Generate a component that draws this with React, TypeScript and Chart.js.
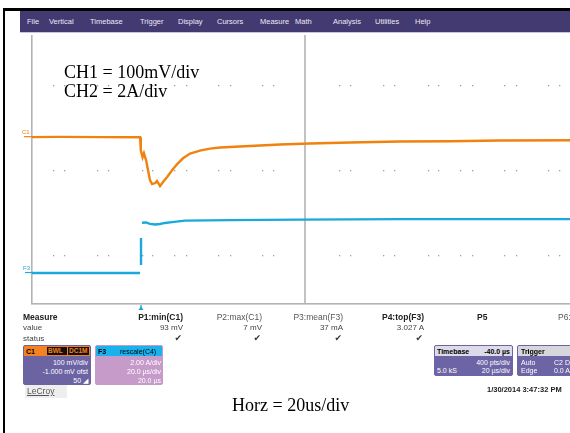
import React, { useEffect, useRef } from "react";
import { Chart, registerables } from "chart.js";

Chart.register(...registerables);

// ---- data (time in µs, CH1 in mV, CH2 in A) ----
const ch1TimeUs = [-100, -89.7, -75.1, -60.4, -60.2, -60.1, -59.5, -59.0, -58.2, -57.5, -56.8, -56.0, -54.9, -54.2, -53.1, -52.0, -50.5, -48.7, -46.9, -44.7, -42.1, -38.5, -34.8, -31.1, -23.8, -16.5, -9.2, 1.8, 16.5, 34.8, 53.1, 71.4, 100];
const ch1MilliVolts = [0, 1, 0, 0, -24, -39, -60, -48, -69, -99, -128, -140, -137, -131, -146, -134, -119, -99, -81, -63, -49, -40, -34, -31, -28, -25, -22, -19, -16, -13, -12, -10, -9];

const ch2TimeUs = [-100, -80, -60.4, -60.25, -60.07, -60.07, -59.9, -59.7, -58.2, -56.8, -54.9, -53.1, -51.3, -48.7, -44.0, -27.5, -1.8, 34.8, 100];
const ch2Amps: (number | null)[] = [0, 0, 0, null, 0.48, 2.09, null, 3.0, 3.02, 2.93, 2.9, 2.93, 2.99, 3.04, 3.13, 3.16, 3.19, 3.22, 3.22];

const timeRangeUs = [-100, 100];
const ch1RangeMv = [-495, 305];
const ch2RangeA = [-1.79, 14.21];
const triggerTimeUs = -60.07;

const menuItems = ["File", "Vertical", "Timebase", "Trigger", "Display", "Cursors", "Measure", "Math", "Analysis", "Utilities", "Help"];
const menuX = [27, 49, 90, 140, 178, 217, 260, 295, 333, 375, 415];

const measureParams = ["P1:min(C1)", "P2:max(C1)", "P3:mean(F3)", "P4:top(F3)"];
const measureValues = ["93 mV", "7 mV", "37 mA", "3.027 A"];
const measureRight = [183, 262, 343, 424];

const ORANGE = "#f0820f";
const CYAN = "#1aa9dc";

const scopePlugin = {
  id: "scopeDecor",
  beforeDatasetsDraw(chart: any) {
    const { ctx, chartArea: a, scales } = chart;
    ctx.save();
    // dotted graticule
    ctx.fillStyle = "#a0a0a0";
    const cols = [21, 32, 65, 76, 110, 120, 142, 154, 186, 198, 230, 241];
    for (const base of [0, 286])
      for (const c of cols)
        for (const r of [50, 135, 220]) ctx.fillRect(a.left + base + c, a.top + r, 1.3, 1.3);
    // border + centre line
    ctx.fillStyle = "#b4b4b4";
    ctx.fillRect(a.left - 1, a.top, 1.6, a.bottom - a.top + 1);
    ctx.fillRect(a.left - 1, a.bottom, a.right - a.left + 2, 1.6);
    const cx = scales.x.getPixelForValue(0);
    ctx.fillRect(cx - 0.8, a.top, 1.6, a.bottom - a.top);
    ctx.restore();
  },
  afterDraw(chart: any) {
    const { ctx, chartArea: a, scales } = chart;
    ctx.save();
    // channel markers
    const y1 = scales.y1.getPixelForValue(0);
    ctx.strokeStyle = ORANGE;
    ctx.fillStyle = ORANGE;
    ctx.lineWidth = 1.2;
    ctx.beginPath();
    ctx.moveTo(24, y1 - 0.5);
    ctx.lineTo(a.left, y1 - 0.5);
    ctx.stroke();
    ctx.font = "6px 'Liberation Sans'";
    ctx.textBaseline = "bottom";
    ctx.fillText("C1", 22, y1 - 2);
    const y2 = scales.y2.getPixelForValue(0);
    ctx.strokeStyle = CYAN;
    ctx.fillStyle = CYAN;
    ctx.beginPath();
    ctx.moveTo(25, y2 - 0.5);
    ctx.lineTo(a.left, y2 - 0.5);
    ctx.stroke();
    ctx.fillText("F3", 23, y2 - 2);
    // trigger marker
    const tx = scales.x.getPixelForValue(triggerTimeUs);
    ctx.fillStyle = CYAN;
    ctx.fillRect(tx - 0.6, a.bottom + 2, 1.2, 4);
    ctx.beginPath();
    ctx.moveTo(tx - 2.5, a.bottom + 7);
    ctx.lineTo(tx + 2.5, a.bottom + 7);
    ctx.lineTo(tx, a.bottom + 3);
    ctx.closePath();
    ctx.fill();
    ctx.restore();
  },
};

type TP = { x?: number; r?: number; ri?: number; y: number; s?: number; c?: string; b?: boolean; children: React.ReactNode; f?: string; u?: boolean };
function T({ x, r, ri, y, s = 8, c = "#222", b = false, children, f = "'Liberation Sans', Arial, sans-serif", u = false }: TP) {
  const style: React.CSSProperties = {
    position: "absolute",
    top: y,
    fontSize: s,
    lineHeight: `${s}px`,
    color: c,
    fontWeight: b ? 700 : 400,
    fontFamily: f,
    whiteSpace: "nowrap",
    textDecoration: u ? "underline" : "none",
  };
  if (ri !== undefined) style.right = ri;
  else if (r !== undefined) style.right = 570 - r;
  else style.left = x;
  return <div style={style}>{children}</div>;
}

function Box({ x, y, w, h, head, headBg, bodyBg, children }: any) {
  return (
    <div style={{ position: "absolute", left: x, top: y, width: w, height: h, background: bodyBg, borderRadius: 2, overflow: "hidden", border: `1px solid ${bodyBg}`, boxSizing: "border-box" }}>
      <div style={{ position: "absolute", left: 0, top: 0, right: 0, height: 10, background: headBg }}>{head}</div>
      {children}
    </div>
  );
}

export default function App() {
  const ref = useRef<HTMLCanvasElement>(null);
  useEffect(() => {
    const chart = new Chart(ref.current!, {
      type: "line",
      data: {
        datasets: [
          {
            label: "CH1",
            data: ch1TimeUs.map((t, i) => ({ x: t, y: ch1MilliVolts[i] })),
            borderColor: ORANGE,
            borderWidth: 2.4,
            pointRadius: 0,
            yAxisID: "y1",
            tension: 0,
          },
          {
            label: "CH2",
            data: ch2TimeUs.map((t, i) => ({ x: t, y: ch2Amps[i] })),
            borderColor: CYAN,
            borderWidth: 2.4,
            pointRadius: 0,
            yAxisID: "y2",
            spanGaps: false,
            tension: 0,
          },
        ],
      },
      options: {
        animation: false,
        responsive: false,
        layout: { padding: { left: 32, top: 35, right: 0, bottom: 130 } },
        plugins: { legend: { display: false }, tooltip: { enabled: false } },
        scales: {
          x: { type: "linear", min: timeRangeUs[0], max: timeRangeUs[1], display: false },
          y1: { type: "linear", min: ch1RangeMv[0], max: ch1RangeMv[1], display: false },
          y2: { type: "linear", min: ch2RangeA[0], max: ch2RangeA[1], display: false },
        },
      },
      plugins: [scopePlugin],
    });
    return () => chart.destroy();
  }, []);

  const serif = "'Liberation Serif', 'Times New Roman', serif";
  return (
    <div style={{ position: "fixed", left: 0, top: 0, width: 570, height: 433, overflow: "hidden", background: "#fff" }}>
      <canvas ref={ref} width={578} height={433} style={{ position: "absolute", left: 0, top: 0, width: 578, height: 433 }} />
      {/* frame */}
      <div style={{ position: "absolute", left: 3, top: 8, width: 567, height: 3, background: "#000" }} />
      <div style={{ position: "absolute", left: 3, top: 8, width: 2, height: 425, background: "#000" }} />
      {/* menu bar */}
      <div style={{ position: "absolute", left: 20, top: 11, width: 550, height: 21, background: "#433a72", borderBottom: "1px solid #c9c4e2" }} />
      {menuItems.map((m, i) => (
        <T key={m} x={menuX[i]} y={18} s={7.5} c="#ece9f7">{m}</T>
      ))}
      {/* annotations */}
      <T x={64} y={63} s={18} c="#000" f={serif}>CH1 = 100mV/div</T>
      <T x={64} y={82} s={18} c="#000" f={serif}>CH2 = 2A/div</T>
      <T x={232} y={396} s={18} c="#000" f={serif}>Horz = 20us/div</T>
      {/* measure table */}
      <T x={23} y={313} s={8.5} b>Measure</T>
      <T x={23} y={324} s={8} c="#444">value</T>
      <T x={23} y={335} s={8} c="#444">status</T>
      {measureParams.map((p, i) => (
        <React.Fragment key={p}>
          <T r={measureRight[i]} y={313} s={8.5} b={i === 0 || i === 3} c={i === 0 || i === 3 ? "#222" : "#555"}>{p}</T>
          <T r={measureRight[i]} y={324} s={8} c="#444">{measureValues[i]}</T>
          <T r={measureRight[i] - 1} y={334} s={9} c="#333" f="'DejaVu Sans', sans-serif">✔</T>
        </React.Fragment>
      ))}
      <T x={477} y={313} s={8.5} b>P5</T>
      <T x={558} y={313} s={8.5} c="#555">P6:</T>
      {/* channel boxes */}
      <Box x={23} y={345} w={68} h={40} headBg="#f58220" bodyBg="#6c63a3"
        head={<>
          <T x={2} y={1.5} s={7} b c="#000">C1</T>
          <div style={{ position: "absolute", left: 23, top: 1, width: 20, height: 8, background: "#111" }} />
          <div style={{ position: "absolute", left: 44, top: 1, width: 21, height: 8, background: "#111" }} />
          <T x={24} y={1.5} s={6.5} c="#f58220" b>BWL</T>
          <T x={45} y={1.5} s={6.5} c="#f58220" b>DC1M</T>
        </>}>
        <T ri={2} y={13} s={7} c="#fff">100 mV/div</T>
        <T ri={2} y={22} s={7} c="#fff">-1.000 mV ofst</T>
        <T ri={2} y={31} s={7} c="#fff">50 ◢</T>
      </Box>
      <Box x={95} y={345} w={68} h={40} headBg="#1ab2ec" bodyBg="#c69bca"
        head={<>
          <T x={2} y={1.5} s={7} b c="#000">F3</T>
          <T x={24} y={1.5} s={7} c="#000">rescale(C4)</T>
        </>}>
        <T ri={1} y={13} s={7} c="#fff">2.00 A/div</T>
        <T ri={1} y={22} s={7} c="#fff">20.0 µs/div</T>
        <T ri={1} y={31} s={7} c="#fff">20.0 µs</T>
      </Box>
      <Box x={434} y={345} w={79} h={31} headBg="#dddbe9" bodyBg="#6c64a4"
        head={<>
          <T x={2} y={1.5} s={7} b c="#000">Timebase</T>
          <T ri={2} y={1.5} s={7} b c="#000">-40.0 µs</T>
        </>}>
        <T ri={2} y={13} s={7} c="#fff">400 pts/div</T>
        <T x={2} y={21} s={7} c="#fff">5.0 kS</T>
        <T ri={2} y={21} s={7} c="#fff">20 µs/div</T>
      </Box>
      <Box x={517} y={345} w={62} h={31} headBg="#d6d6dc" bodyBg="#6c64a4"
        head={<T x={3} y={1.5} s={7} b c="#000">Trigger</T>}>
        <T x={3} y={13} s={7} c="#fff">Auto</T>
        <T x={36} y={13} s={7} c="#fff">C2 DC</T>
        <T x={3} y={21} s={7} c="#fff">Edge</T>
        <T x={36} y={21} s={7} c="#fff">0.0 A</T>
      </Box>
      {/* footer */}
      <div style={{ position: "absolute", left: 25, top: 385, width: 42, height: 13, background: "#eeeeee" }} />
      <T x={27} y={387} s={8.5} c="#555" u>LeCroy</T>
      <T x={487} y={386} s={7.5} b c="#222">1/30/2014 3:47:32 PM</T>
    </div>
  );
}
